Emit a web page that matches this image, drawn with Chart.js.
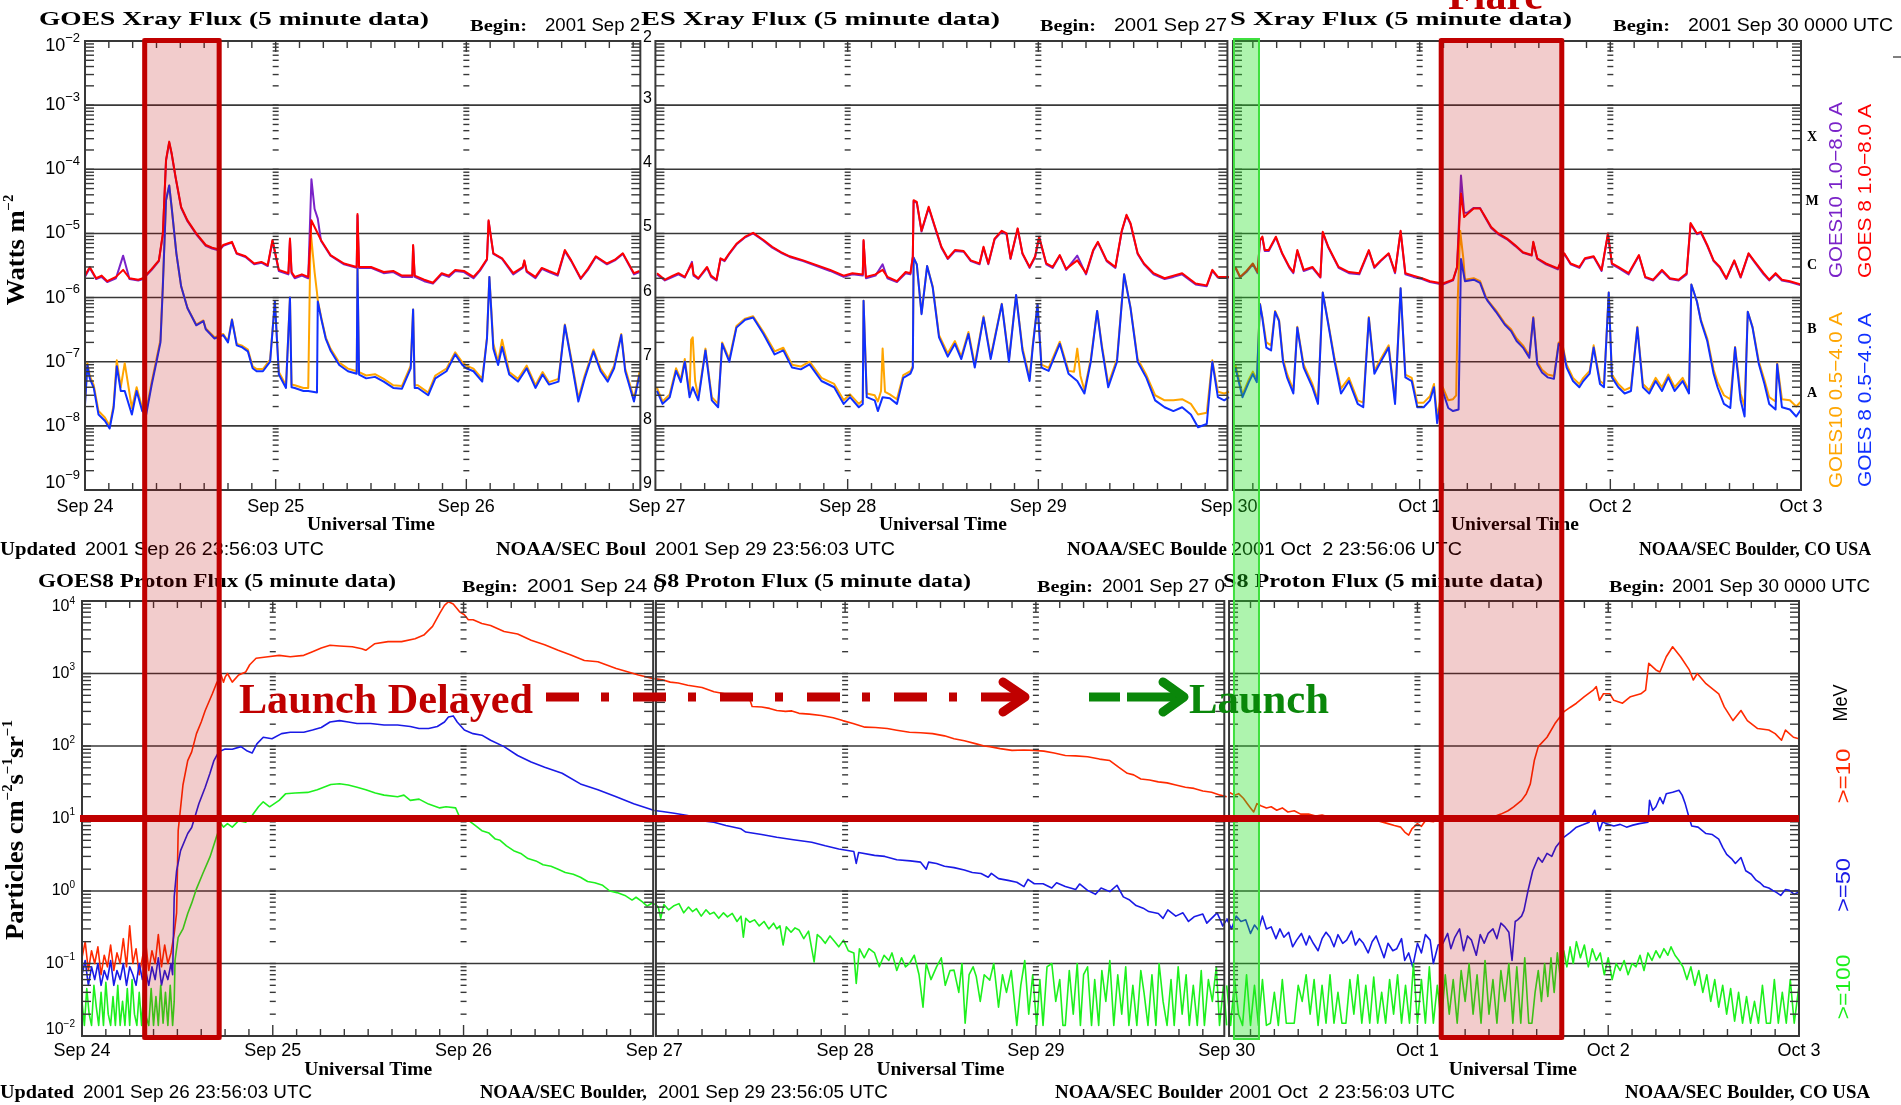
<!DOCTYPE html>
<html><head><meta charset="utf-8">
<script src="https://cdn.jsdelivr.net/npm/chart.js@4.4.1/dist/chart.umd.min.js"></script>
<style>
html,body{margin:0;padding:0;background:#fff;}
#wrap{position:relative;width:1901px;height:1105px;overflow:hidden;background:#fff;}
canvas{position:absolute;left:0;top:0;}
</style></head><body>
<div id="wrap">
<canvas id="cx" width="1901" height="1105"></canvas>
<canvas id="cp" width="1901" height="1105"></canvas>
<canvas id="ov" width="1901" height="1105"></canvas>
</div>
<script>
// ===== DATA: [hours since 2001 Sep 24 00:00 UTC, value] =====
const dayLabels = ['Sep 24','Sep 25','Sep 26','Sep 27','Sep 28','Sep 29','Sep 30','Oct 1','Oct 2','Oct 3'];
const goesClasses = ['A','B','C','M','X'];

// GOES 8 1.0-8.0 A (W m-2)
const g8Long1 = [[0,2.2e-6],[0.6,3.0e-6],[1.4,2.0e-6],[2.1,2.2e-6],[2.8,1.8e-6],[3.9,2.1e-6],[4.8,2.7e-6],[5.6,2.0e-6],[6.7,1.9e-6],[7.3,2.0e-6],[8.4,2.8e-6],[9.3,3.8e-6],[9.8,1.0e-5],[10.2,1.4e-4],[10.6,2.7e-4],[10.9,1.8e-4],[11.4,7.6e-5],[12.1,2.6e-5],[12.9,1.6e-5],[14.0,1.0e-5],[15.2,6.6e-6],[16.0,6.0e-6],[16.9,5.6e-6],[17.4,6.6e-6],[18.5,7.4e-6],[19.1,4.9e-6],[20.2,4.4e-6],[21.3,3.4e-6],[22.2,3.6e-6],[23.0,3.2e-6],[23.6,7.9e-6],[24.4,2.7e-6],[25.6,2.4e-6],[25.8,8.3e-6],[26.0,2.5e-6],[26.4,2.1e-6],[27.3,2.3e-6],[28.1,2.1e-6],[28.5,1.6e-5],[28.9,1.26e-5],[29.7,7.9e-6],[30.9,4.6e-6],[32.6,3.4e-6],[34.2,3.0e-6],[34.3,2.0e-5],[34.5,3.0e-6],[36.0,3.0e-6],[37.6,2.5e-6],[38.8,2.6e-6],[39.9,2.2e-6],[41.2,2.2e-6],[41.3,6.6e-6],[41.5,2.2e-6],[42.7,1.9e-6],[43.8,1.7e-6],[44.9,2.4e-6],[45.8,2.2e-6],[46.6,2.7e-6],[47.7,2.6e-6],[48.9,2.1e-6],[49.7,2.7e-6],[50.6,4.0e-6],[50.8,1.6e-5],[51.4,4.9e-6],[52.5,4.1e-6],[53.9,2.4e-6],[55.1,3.0e-6],[55.3,3.8e-6],[55.6,2.6e-6],[56.7,2.1e-6],[57.5,2.9e-6],[58.4,2.6e-6],[59.5,2.3e-6],[60.4,5.5e-6],[61.2,3.8e-6],[62.4,2.0e-6],[63.3,2.8e-6],[64.3,4.4e-6],[65.7,3.4e-6],[66.7,3.9e-6],[67.7,4.9e-6],[69.1,2.4e-6],[69.8,2.6e-6]];
const g8Long2 = [[72,2.4e-6],[73,1.9e-6],[74,2.2e-6],[74.7,2.4e-6],[75.5,2.1e-6],[76.4,3.4e-6],[76.6,2.3e-6],[77.2,2.0e-6],[78.3,3.0e-6],[78.8,2.2e-6],[79.5,1.9e-6],[80.0,4.1e-6],[80.5,3.8e-6],[81.1,4.9e-6],[82.0,6.9e-6],[83.1,8.9e-6],[84.1,1.02e-5],[85.4,7.9e-6],[86.5,6.2e-6],[87.6,5.1e-6],[88.7,4.4e-6],[90.4,3.8e-6],[92.1,3.2e-6],[93.8,2.7e-6],[95.5,2.2e-6],[96.6,2.4e-6],[97.9,2.3e-6],[98.0,7.9e-6],[98.3,2.1e-6],[99.5,2.3e-6],[100.4,2.7e-6],[101.0,2.1e-6],[102.2,1.8e-6],[103.3,2.5e-6],[103.9,2.4e-6],[104.2,4.4e-6],[104.3,3.3e-5],[104.7,3.1e-5],[105.3,1.1e-5],[106.2,2.6e-5],[107.0,1.26e-5],[107.8,6.2e-6],[108.6,4.1e-6],[109.5,5.5e-6],[110.6,5.3e-6],[111.5,3.8e-6],[112.6,3.4e-6],[113.1,6.2e-6],[113.7,3.4e-6],[114.5,8.3e-6],[115.4,1.1e-5],[116.0,1.0e-5],[116.5,4.1e-6],[117.4,1.2e-5],[118.0,4.9e-6],[118.9,3.0e-6],[119.6,4.4e-6],[120.1,8.9e-6],[121.0,3.4e-6],[121.8,3.0e-6],[122.7,4.6e-6],[123.5,2.8e-6],[124.9,3.8e-6],[126.0,2.4e-6],[126.9,5.5e-6],[127.5,7.4e-6],[128.6,3.8e-6],[129.7,3.0e-6],[130.5,1.1e-5],[131.1,1.95e-5],[131.6,1.45e-5],[132.5,4.9e-6],[133.3,3.4e-6],[134.5,2.4e-6],[135.9,2.0e-6],[137.0,2.2e-6],[138.1,2.4e-6],[139.8,1.66e-6],[141.2,1.55e-6],[141.9,2.7e-6],[142.6,2.1e-6],[144,2.1e-6]];
const g8Long3 = [[144.8,3.0e-6],[145.4,2.1e-6],[146.2,2.6e-6],[147.0,3.4e-6],[147.6,2.5e-6],[147.9,7.9e-6],[148.2,8.9e-6],[148.5,5.5e-6],[149.0,5.5e-6],[149.9,8.9e-6],[150.7,4.9e-6],[151.6,3.0e-6],[152.1,2.5e-6],[152.6,5.5e-6],[153.4,2.7e-6],[154.5,3.0e-6],[155.5,2.1e-6],[155.8,1.06e-5],[156.5,6.2e-6],[157.8,3.0e-6],[159.1,2.5e-6],[160.4,2.4e-6],[161.6,5.5e-6],[162.3,3.0e-6],[163.1,3.8e-6],[164.1,4.9e-6],[164.9,2.5e-6],[165.6,1.1e-5],[166.2,2.4e-6],[167.2,2.2e-6],[168.3,2.0e-6],[169.3,1.8e-6],[170.9,1.66e-6],[172.2,1.9e-6],[172.7,3.0e-6],[173.2,4.2e-5],[173.6,1.8e-5],[174.0,2.0e-5],[174.8,2.45e-5],[175.6,2.45e-5],[176.1,1.95e-5],[177.0,1.26e-5],[177.9,1.0e-5],[179.0,8.3e-6],[180.0,6.6e-6],[181.0,5.1e-6],[182.1,4.6e-6],[182.3,7.4e-6],[182.8,4.1e-6],[183.9,3.4e-6],[185.4,2.85e-6],[186.2,4.9e-6],[187.0,3.4e-6],[188.1,3.0e-6],[188.8,4.1e-6],[189.9,4.4e-6],[190.9,2.7e-6],[191.7,1.0e-5],[192.2,3.4e-6],[193.0,3.0e-6],[194.3,2.4e-6],[195.6,4.6e-6],[196.4,2.1e-6],[197.4,1.9e-6],[198.5,2.7e-6],[199.5,2.0e-6],[200.6,1.9e-6],[201.6,2.4e-6],[202.1,1.45e-5],[202.9,1.0e-5],[203.4,1.06e-5],[204.2,6.6e-6],[205.0,3.8e-6],[205.8,3.0e-6],[206.6,2.0e-6],[207.6,3.8e-6],[208.4,2.1e-6],[209.4,4.9e-6],[210.2,3.6e-6],[211.3,2.4e-6],[212.0,1.9e-6],[212.8,2.4e-6],[213.6,1.9e-6],[214.6,1.8e-6],[216,1.6e-6]];

// GOES10 1.0-8.0 A
const g10Long1 = [[0,2.1e-6],[0.6,2.9e-6],[1.4,1.95e-6],[2.1,2.1e-6],[2.8,1.75e-6],[3.9,2.0e-6],[4.8,4.5e-6],[5.6,1.95e-6],[6.7,1.85e-6],[7.3,1.95e-6],[8.4,2.7e-6],[9.3,3.7e-6],[9.8,9.6e-6],[10.2,1.35e-4],[10.6,2.6e-4],[10.9,1.75e-4],[11.4,7.4e-5],[12.1,2.5e-5],[12.9,1.55e-5],[14.0,9.7e-6],[15.2,6.4e-6],[16.0,5.8e-6],[16.9,5.4e-6],[17.4,6.4e-6],[18.5,7.2e-6],[19.1,4.8e-6],[20.2,4.3e-6],[21.3,3.3e-6],[22.2,3.5e-6],[23.0,3.1e-6],[23.6,7.6e-6],[24.4,2.6e-6],[25.6,2.3e-6],[25.8,8.0e-6],[26.0,2.4e-6],[26.4,2.0e-6],[27.3,2.2e-6],[28.1,2.0e-6],[28.5,7.0e-5],[28.9,2.4e-5],[29.3,1.7e-5],[29.7,7.7e-6],[30.9,4.5e-6],[32.6,3.3e-6],[34.2,2.9e-6],[34.3,1.9e-5],[34.5,2.9e-6],[36.0,2.9e-6],[37.6,2.4e-6],[38.8,2.5e-6],[39.9,2.1e-6],[41.2,2.1e-6],[41.3,6.4e-6],[41.5,2.1e-6],[42.7,1.8e-6],[43.8,1.65e-6],[44.9,2.3e-6],[45.8,2.1e-6],[46.6,2.6e-6],[47.7,2.5e-6],[48.9,2.0e-6],[49.7,2.6e-6],[50.6,3.9e-6],[50.8,1.55e-5],[51.4,4.8e-6],[52.5,4.0e-6],[53.9,2.3e-6],[55.1,2.9e-6],[55.3,3.7e-6],[55.6,2.5e-6],[56.7,2.0e-6],[57.5,2.8e-6],[58.4,2.5e-6],[59.5,2.2e-6],[60.4,5.3e-6],[61.2,3.7e-6],[62.4,1.95e-6],[63.3,2.7e-6],[64.3,4.3e-6],[65.7,3.3e-6],[66.7,3.8e-6],[67.7,4.8e-6],[69.1,2.3e-6],[69.8,2.5e-6]];
const g10Long2 = [[72,2.3e-6],[73,1.85e-6],[74,2.1e-6],[74.7,2.3e-6],[75.5,2.05e-6],[76.4,3.6e-6],[76.6,2.2e-6],[77.2,1.95e-6],[78.3,2.9e-6],[78.8,2.1e-6],[79.5,1.85e-6],[80.0,4.0e-6],[80.5,3.7e-6],[81.1,4.8e-6],[82.0,6.7e-6],[83.1,8.7e-6],[84.1,1.0e-5],[85.4,7.7e-6],[86.5,6.0e-6],[87.6,5.0e-6],[88.7,4.3e-6],[90.4,3.7e-6],[92.1,3.1e-6],[93.8,2.6e-6],[95.5,2.1e-6],[96.6,2.3e-6],[97.9,2.2e-6],[98.0,7.6e-6],[98.3,2.0e-6],[99.5,2.2e-6],[100.4,3.3e-6],[101.0,2.0e-6],[102.2,1.75e-6],[103.3,2.4e-6],[103.9,2.3e-6],[104.2,4.3e-6],[104.3,3.2e-5],[104.7,3.0e-5],[105.3,1.07e-5],[106.2,2.5e-5],[107.0,1.22e-5],[107.8,6.0e-6],[108.6,4.0e-6],[109.5,5.3e-6],[110.6,5.2e-6],[111.5,3.7e-6],[112.6,3.3e-6],[113.1,6.0e-6],[113.7,3.3e-6],[114.5,8.1e-6],[115.4,1.07e-5],[116.0,9.7e-6],[116.5,4.0e-6],[117.4,1.17e-5],[118.0,4.8e-6],[118.9,2.9e-6],[119.6,4.3e-6],[120.1,8.7e-6],[121.0,3.3e-6],[121.8,2.9e-6],[122.7,4.5e-6],[123.5,2.7e-6],[124.9,4.5e-6],[126.0,2.3e-6],[126.9,5.3e-6],[127.5,7.2e-6],[128.6,3.7e-6],[129.7,2.9e-6],[130.5,1.07e-5],[131.1,1.9e-5],[131.6,1.4e-5],[132.5,4.8e-6],[133.3,3.3e-6],[134.5,2.3e-6],[135.9,1.95e-6],[137.0,2.1e-6],[138.1,2.3e-6],[139.8,1.6e-6],[141.2,1.5e-6],[141.9,2.6e-6],[142.6,2.05e-6],[144,2.05e-6]];
const g10Long3 = [[144.8,2.9e-6],[145.4,2.05e-6],[146.2,2.5e-6],[147.0,3.3e-6],[147.6,2.4e-6],[147.9,7.7e-6],[148.2,8.6e-6],[148.5,5.3e-6],[149.0,5.3e-6],[149.9,8.6e-6],[150.7,4.8e-6],[151.6,2.9e-6],[152.1,2.4e-6],[152.6,5.3e-6],[153.4,2.6e-6],[154.5,2.9e-6],[155.5,2.05e-6],[155.8,1.03e-5],[156.5,6.0e-6],[157.8,2.9e-6],[159.1,2.4e-6],[160.4,2.3e-6],[161.6,5.3e-6],[162.3,2.9e-6],[163.1,3.7e-6],[164.1,4.8e-6],[164.9,2.4e-6],[165.6,1.07e-5],[166.2,2.3e-6],[167.2,2.1e-6],[168.3,1.95e-6],[169.3,1.75e-6],[170.9,1.6e-6],[172.2,1.85e-6],[172.7,2.9e-6],[173.2,8.0e-5],[173.6,2.1e-5],[174.0,2.1e-5],[174.8,2.5e-5],[175.6,2.5e-5],[176.1,1.9e-5],[177.0,1.22e-5],[177.9,9.7e-6],[179.0,8.1e-6],[180.0,6.4e-6],[181.0,5.0e-6],[182.1,4.5e-6],[182.3,7.2e-6],[182.8,4.0e-6],[183.9,3.3e-6],[185.4,2.75e-6],[186.2,4.8e-6],[187.0,3.3e-6],[188.1,2.9e-6],[188.8,4.0e-6],[189.9,4.3e-6],[190.9,2.6e-6],[191.7,9.7e-6],[192.2,3.3e-6],[193.0,2.9e-6],[194.3,2.3e-6],[195.6,4.5e-6],[196.4,2.05e-6],[197.4,1.85e-6],[198.5,2.6e-6],[199.5,1.95e-6],[200.6,1.85e-6],[201.6,2.3e-6],[202.1,1.4e-5],[202.9,9.7e-6],[203.4,1.03e-5],[204.2,6.4e-6],[205.0,3.7e-6],[205.8,2.9e-6],[206.6,1.95e-6],[207.6,3.7e-6],[208.4,2.05e-6],[209.4,4.8e-6],[210.2,3.5e-6],[211.3,2.3e-6],[212.0,1.85e-6],[212.8,2.3e-6],[213.6,1.85e-6],[214.6,1.75e-6],[216,1.55e-6]];

// GOES 8 0.5-4.0 A
const g8Short1 = [[0,2.1e-8],[0.3,8.9e-8],[0.6,5.5e-8],[1.1,3.9e-8],[1.7,1.5e-8],[2.5,1.2e-8],[3.1,9.1e-9],[3.6,1.9e-8],[4.0,8.5e-8],[4.5,3.5e-8],[5.0,3.5e-8],[5.9,1.5e-8],[6.5,3.5e-8],[7.2,1.7e-8],[7.7,1.5e-8],[8.4,4.4e-8],[9.0,1.0e-7],[9.5,2.0e-7],[9.8,1.5e-6],[10.2,3.3e-5],[10.6,5.6e-5],[10.9,2.6e-5],[11.5,4.9e-6],[12.1,1.5e-6],[12.9,6.8e-7],[14.0,3.7e-7],[14.9,4.3e-7],[15.2,3.2e-7],[16.3,2.3e-7],[17.4,2.6e-7],[18.0,2.0e-7],[18.5,4.5e-7],[19.1,1.8e-7],[19.7,1.7e-7],[20.5,1.45e-7],[21.1,7.9e-8],[21.6,7.1e-8],[22.4,7.1e-8],[23.3,1.0e-7],[23.9,8.7e-7],[24.4,6.3e-8],[25.3,3.9e-8],[25.8,1.0e-6],[26.0,4.0e-8],[26.4,3.9e-8],[27.5,3.5e-8],[28.1,3.5e-8],[29.2,3.3e-8],[29.3,8.7e-7],[29.8,4.3e-7],[30.3,2.3e-7],[30.9,1.5e-7],[32.0,8.9e-8],[33.1,7.1e-8],[34.2,6.5e-8],[34.3,2.8e-6],[34.5,6.3e-8],[35.4,5.5e-8],[36.5,5.8e-8],[37.6,4.9e-8],[38.8,3.9e-8],[39.9,3.8e-8],[41.0,7.9e-8],[41.3,6.5e-7],[41.5,3.9e-8],[41.9,3.9e-8],[43.2,3.0e-8],[44.1,5.5e-8],[45.5,7.1e-8],[46.6,1.3e-7],[47.5,8.9e-8],[48.0,7.9e-8],[48.9,7.1e-8],[50.0,4.9e-8],[50.6,2.3e-7],[50.9,2.1e-6],[51.4,1.6e-7],[52.0,8.9e-8],[52.5,1.7e-7],[53.4,6.3e-8],[54.5,4.9e-8],[55.6,7.9e-8],[56.7,3.9e-8],[57.6,6.3e-8],[58.4,4.4e-8],[59.6,4.9e-8],[60.4,3.7e-7],[61.3,8.9e-8],[62.1,2.4e-8],[62.9,5.5e-8],[64.0,1.45e-7],[64.9,7.1e-8],[65.8,4.9e-8],[66.6,7.9e-8],[67.5,2.6e-7],[68.0,7.1e-8],[69.1,2.4e-8],[69.8,6.3e-8]];
const g8Short2 = [[72,3.5e-8],[72.7,2.2e-8],[73.6,2.8e-8],[74.4,7.2e-8],[75.0,4.8e-8],[75.5,1.0e-7],[76.1,2.8e-8],[76.5,4.0e-8],[77.2,2.5e-8],[78.1,1.5e-7],[78.9,2.5e-8],[79.7,1.95e-8],[80.2,1.9e-7],[81.1,1.0e-7],[82.0,3.4e-7],[83.1,4.5e-7],[84.1,4.9e-7],[85.4,2.7e-7],[86.8,1.3e-7],[87.9,1.5e-7],[89.0,8.1e-8],[90.1,7.6e-8],[91.2,9.1e-8],[92.7,5.0e-8],[94.3,4.0e-8],[95.5,2.2e-8],[96.3,2.8e-8],[97.4,1.95e-8],[97.9,2.2e-8],[98.0,8.9e-7],[98.4,2.8e-8],[99.4,2.5e-8],[99.8,1.7e-8],[100.4,2.8e-8],[101.3,2.7e-8],[102.2,2.2e-8],[103.0,5.6e-8],[103.9,6.5e-8],[104.2,8.0e-8],[104.3,4.2e-6],[104.7,3.3e-6],[105.3,5.5e-7],[106.0,3.1e-6],[106.7,1.45e-6],[107.5,2.4e-7],[108.6,1.2e-7],[109.5,1.9e-7],[110.3,1.1e-7],[111.2,2.7e-7],[112.0,8.1e-8],[113.1,4.9e-7],[114.0,1.1e-7],[115.4,7.9e-7],[116.3,1.0e-7],[117.2,1.1e-6],[118.0,1.5e-7],[118.9,5.0e-8],[119.3,1.7e-7],[119.9,7.9e-7],[120.4,8.1e-8],[121.3,7.2e-8],[122.7,1.9e-7],[123.8,6.5e-8],[124.9,5.0e-8],[125.8,3.2e-8],[126.6,1.0e-7],[127.4,6.2e-7],[128.0,1.66e-7],[128.8,4.0e-8],[129.9,1.0e-7],[130.8,2.3e-6],[131.6,6.9e-7],[132.5,1.0e-7],[133.6,5.6e-8],[134.7,2.5e-8],[135.9,1.95e-8],[137.0,1.7e-8],[138.1,1.95e-8],[139.2,1.5e-8],[140.1,9.5e-9],[141.2,1.07e-8],[141.9,1.0e-7],[142.6,2.8e-8],[143.4,2.5e-8],[144,2.8e-8]];
const g8Short3 = [[144.8,8.1e-8],[145.7,2.8e-8],[146.5,4.8e-8],[147.0,6.4e-8],[147.5,4.8e-8],[147.9,7.9e-7],[148.2,4.8e-7],[148.7,1.66e-7],[149.3,1.5e-7],[149.8,6.0e-7],[150.3,4.3e-7],[150.8,1.0e-7],[151.3,5.7e-8],[152.1,3.2e-8],[152.6,3.4e-7],[153.4,8.1e-8],[154.5,4.0e-8],[155.2,2.2e-8],[155.8,1.2e-6],[156.5,3.8e-7],[157.3,1.0e-7],[158.1,3.2e-8],[159.1,5.0e-8],[160.2,2.2e-8],[160.9,1.95e-8],[161.6,4.8e-7],[162.3,6.5e-8],[163.1,1.0e-7],[164.1,1.66e-7],[164.9,2.2e-8],[165.6,1.4e-6],[166.2,5.7e-8],[167.0,5.0e-8],[167.7,1.95e-8],[168.5,1.95e-8],[169.3,2.5e-8],[169.8,4.0e-8],[170.2,1.1e-8],[170.9,3.5e-8],[171.6,1.9e-8],[172.2,1.7e-8],[172.9,1.8e-8],[173.2,4.0e-6],[173.7,1.8e-6],[174.8,1.9e-6],[175.6,1.7e-6],[176.3,1.0e-6],[176.6,8.7e-7],[177.6,6.0e-7],[178.7,3.8e-7],[179.5,3.0e-7],[180.2,2.1e-7],[181.0,1.66e-7],[181.8,1.15e-7],[182.3,4.8e-7],[182.8,9.1e-8],[183.4,6.8e-8],[184.1,5.7e-8],[184.9,5.4e-8],[185.5,1.9e-7],[186.0,1.66e-7],[186.5,8.1e-8],[187.3,5.0e-8],[188.1,4.0e-8],[188.6,5.0e-8],[189.4,6.5e-8],[189.9,1.66e-7],[190.7,4.5e-8],[191.2,4.0e-8],[191.8,1.2e-6],[192.2,5.7e-8],[193.0,4.0e-8],[193.8,3.2e-8],[194.6,3.5e-8],[195.4,3.4e-7],[196.1,4.0e-8],[196.9,3.2e-8],[197.7,5.0e-8],[198.5,3.5e-8],[199.3,5.7e-8],[200.1,3.5e-8],[201.1,5.0e-8],[201.9,3.2e-8],[202.2,1.6e-6],[202.9,8.7e-7],[203.4,4.3e-7],[204.2,2.1e-7],[205.0,6.5e-8],[205.5,4.0e-8],[206.3,2.2e-8],[207.1,1.9e-8],[207.7,1.66e-7],[208.4,2.5e-8],[208.9,1.4e-8],[209.3,6.0e-7],[209.9,3.4e-7],[210.7,9.1e-8],[211.4,4.5e-8],[212.0,2.2e-8],[212.8,1.8e-8],[213.0,9.1e-8],[213.6,1.95e-8],[214.6,1.8e-8],[215.4,1.4e-8],[216,1.8e-8]];

// GOES10 0.5-4.0 A
const g10Short1 = [[0,2.4e-8],[0.3,9.5e-8],[0.6,6.0e-8],[1.1,4.3e-8],[1.7,1.7e-8],[2.5,1.35e-8],[3.1,1.0e-8],[3.6,2.1e-8],[4.0,1.05e-7],[4.5,4.0e-8],[5.0,9.5e-8],[5.9,1.9e-8],[6.5,4.0e-8],[7.2,1.9e-8],[7.7,1.7e-8],[8.4,4.9e-8],[9.0,1.1e-7],[9.5,2.2e-7],[9.8,1.6e-6],[10.2,3.3e-5],[10.6,5.6e-5],[10.9,2.6e-5],[11.5,4.9e-6],[12.1,1.5e-6],[12.9,6.9e-7],[14.0,3.8e-7],[14.9,4.4e-7],[15.2,3.3e-7],[16.3,2.4e-7],[17.4,2.7e-7],[18.0,2.1e-7],[18.5,4.6e-7],[19.1,1.9e-7],[19.7,1.8e-7],[20.5,1.55e-7],[21.1,8.5e-8],[21.6,7.7e-8],[22.4,7.7e-8],[23.3,1.08e-7],[23.9,8.7e-7],[24.4,6.9e-8],[25.3,4.3e-8],[25.8,1.0e-6],[26.0,4.4e-8],[26.4,4.3e-8],[27.5,3.9e-8],[28.1,3.9e-8],[28.4,1.1e-5],[28.9,2.5e-6],[29.2,1.2e-6],[29.3,9.0e-7],[29.8,4.5e-7],[30.3,2.4e-7],[30.9,1.6e-7],[32.0,9.7e-8],[33.1,7.8e-8],[34.2,7.1e-8],[34.3,2.8e-6],[34.5,6.9e-8],[35.4,6.1e-8],[36.5,6.4e-8],[37.6,5.4e-8],[38.8,4.3e-8],[39.9,4.2e-8],[41.0,8.7e-8],[41.3,6.5e-7],[41.5,4.3e-8],[41.9,4.3e-8],[43.2,3.3e-8],[44.1,6.1e-8],[45.5,7.8e-8],[46.6,1.4e-7],[47.5,9.8e-8],[48.0,8.7e-8],[48.9,7.8e-8],[50.0,5.4e-8],[50.6,2.4e-7],[50.9,2.1e-6],[51.4,1.9e-7],[52.0,1.0e-7],[52.5,2.2e-7],[53.4,6.9e-8],[54.5,5.4e-8],[55.6,8.7e-8],[56.7,4.3e-8],[57.6,6.9e-8],[58.4,4.8e-8],[59.6,5.4e-8],[60.4,3.8e-7],[61.3,9.8e-8],[62.1,2.7e-8],[62.9,6.1e-8],[64.0,1.55e-7],[64.9,7.8e-8],[65.8,5.4e-8],[66.6,8.7e-8],[67.5,2.7e-7],[68.0,7.8e-8],[69.1,2.7e-8],[69.8,6.9e-8]];
const g10Short2 = [[72,3.9e-8],[72.7,2.4e-8],[73.6,3.1e-8],[74.4,7.9e-8],[75.0,5.3e-8],[75.5,1.1e-7],[76.1,3.1e-8],[76.3,2.2e-7],[76.5,2.4e-7],[76.8,5.0e-8],[77.2,2.8e-8],[78.1,1.6e-7],[78.9,2.8e-8],[79.7,2.2e-8],[80.2,2.0e-7],[81.1,1.1e-7],[82.0,3.6e-7],[83.1,4.7e-7],[84.1,5.1e-7],[85.4,2.9e-7],[86.8,1.45e-7],[87.9,1.65e-7],[89.0,9.0e-8],[90.1,8.4e-8],[91.2,1.0e-7],[92.7,5.6e-8],[94.3,4.5e-8],[95.5,2.5e-8],[96.3,3.1e-8],[97.4,2.2e-8],[97.9,2.5e-8],[98.0,8.9e-7],[98.4,3.2e-8],[99.4,3.0e-8],[99.8,2.4e-8],[100.2,3.5e-8],[100.4,1.6e-7],[100.7,3.4e-8],[101.3,3.1e-8],[102.2,2.6e-8],[103.0,6.2e-8],[103.9,7.1e-8],[104.2,8.5e-8],[104.3,4.2e-6],[104.7,3.3e-6],[105.3,5.7e-7],[106.0,3.1e-6],[106.7,1.5e-6],[107.5,2.6e-7],[108.6,1.35e-7],[109.5,2.1e-7],[110.3,1.2e-7],[111.2,2.9e-7],[112.0,9.0e-8],[113.1,5.1e-7],[114.0,1.2e-7],[115.4,8.0e-7],[116.3,1.1e-7],[117.2,1.1e-6],[118.0,1.65e-7],[118.9,5.6e-8],[119.3,1.85e-7],[119.9,7.9e-7],[120.4,9.0e-8],[121.3,8.0e-8],[122.7,2.05e-7],[123.8,7.2e-8],[124.5,7.0e-8],[124.9,1.6e-7],[125.3,6.0e-8],[125.8,3.6e-8],[126.6,1.1e-7],[127.4,6.2e-7],[128.0,1.8e-7],[128.8,4.5e-8],[129.9,1.1e-7],[130.8,2.3e-6],[131.6,7.1e-7],[132.5,1.1e-7],[133.6,6.2e-8],[134.7,3.0e-8],[135.9,2.5e-8],[137.0,2.5e-8],[138.1,2.6e-8],[139.2,2.2e-8],[140.1,1.5e-8],[141.2,1.6e-8],[141.9,1.05e-7],[142.6,3.4e-8],[143.4,3.2e-8],[144,3.4e-8]];
const g10Short3 = [[144.8,9.0e-8],[145.7,3.1e-8],[146.5,5.3e-8],[147.0,7.0e-8],[147.5,5.3e-8],[147.9,8.0e-7],[148.2,5.0e-7],[148.7,2.0e-7],[149.3,1.8e-7],[149.8,6.2e-7],[150.3,4.5e-7],[150.8,1.1e-7],[151.3,6.5e-8],[152.1,3.6e-8],[152.6,3.5e-7],[153.4,9.0e-8],[154.5,4.5e-8],[155.2,2.5e-8],[155.8,1.2e-6],[156.5,4.0e-7],[157.3,1.1e-7],[158.1,3.8e-8],[159.1,5.6e-8],[160.2,2.5e-8],[160.9,2.3e-8],[161.6,5.0e-7],[162.3,7.2e-8],[163.1,1.1e-7],[164.1,1.8e-7],[164.9,2.5e-8],[165.6,1.4e-6],[166.2,6.3e-8],[167.0,5.6e-8],[167.7,2.3e-8],[168.5,2.3e-8],[169.3,2.9e-8],[169.8,4.5e-8],[170.2,1.4e-8],[170.9,4.0e-8],[171.6,2.5e-8],[172.2,2.6e-8],[172.6,3.0e-8],[172.8,1.0e-6],[173.1,1.1e-5],[173.5,4.0e-6],[173.7,1.9e-6],[174.8,2.0e-6],[175.6,1.8e-6],[176.3,1.05e-6],[176.6,9.0e-7],[177.6,6.3e-7],[178.7,4.0e-7],[179.5,3.2e-7],[180.2,2.3e-7],[181.0,1.8e-7],[181.8,1.25e-7],[182.3,5.0e-7],[182.8,1.0e-7],[183.4,7.5e-8],[184.1,6.3e-8],[184.9,6.0e-8],[185.5,2.0e-7],[186.0,1.8e-7],[186.5,9.0e-8],[187.3,5.6e-8],[188.1,4.5e-8],[188.6,5.6e-8],[189.4,7.2e-8],[189.9,1.8e-7],[190.7,5.0e-8],[191.2,4.5e-8],[191.8,1.2e-6],[192.2,6.3e-8],[193.0,4.5e-8],[193.8,3.6e-8],[194.6,4.0e-8],[195.4,3.5e-7],[196.1,4.5e-8],[196.9,3.6e-8],[197.7,5.6e-8],[198.5,4.0e-8],[199.3,6.3e-8],[200.1,4.0e-8],[201.1,5.6e-8],[201.9,3.6e-8],[202.2,1.6e-6],[202.9,8.7e-7],[203.4,4.5e-7],[204.2,2.3e-7],[205.0,7.5e-8],[205.5,4.8e-8],[206.3,3.0e-8],[207.1,2.6e-8],[207.7,1.7e-7],[208.4,3.2e-8],[208.9,2.0e-8],[209.3,6.0e-7],[209.9,3.5e-7],[210.7,1.0e-7],[211.4,5.2e-8],[212.0,2.8e-8],[212.8,2.4e-8],[213.0,9.5e-8],[213.6,2.6e-8],[214.6,2.5e-8],[215.4,2.0e-8],[216,2.4e-8]];

// GOES8 proton flux >=10 MeV (particles cm-2 s-1 sr-1)
const p10a = [[0,0.12],[0.4,0.2],[0.8,0.08],[1.2,0.15],[1.6,0.1],[2.0,0.17],[2.4,0.07],[2.8,0.13],[3.2,0.09],[3.6,0.18],[4.0,0.08],[4.4,0.14],[4.8,0.1],[5.2,0.22],[5.6,0.09],[6.0,0.33],[6.4,0.1],[6.8,0.16],[7.2,0.07],[7.6,0.12],[8.0,0.2],[8.4,0.08],[8.8,0.15],[9.2,0.1],[9.6,0.25],[10.0,0.09],[10.4,0.18],[10.8,0.1],[11.2,0.14],[11.6,0.26],[11.9,0.5],[12.1,6.8],[12.4,14],[12.7,29],[13.3,63],[13.8,83],[14.4,148],[15.0,214],[15.5,309],[16.4,525],[16.9,724],[17.5,955],[17.8,760],[18.0,890],[18.3,1000],[18.9,760],[19.7,955],[20.6,1050],[21.1,1320],[21.9,1620],[23.4,1700],[24.8,1780],[26.2,1700],[27.9,1780],[29.0,2000],[30.1,2240],[31.2,2450],[32.4,2400],[34.0,2340],[35.2,2200],[35.7,2090],[36.8,2570],[38.5,2750],[40.2,2750],[41.9,3020],[43.0,3390],[44.1,4470],[45.0,6760],[45.6,8710],[46.1,9770],[46.7,9100],[47.5,7080],[48.1,6460],[48.6,5500],[49.2,5500],[50.3,4900],[51.4,4600],[53.1,3800],[54.8,3500],[56.5,2880],[58.2,2500],[59.9,2090],[61.5,1800],[63.2,1510],[64.9,1450],[67.2,1170],[68.3,1080],[70.0,955],[71.9,850]];
const p10b = [[72,850],[73,820],[74,760],[75,740],[76.2,690],[78,640],[79.5,560],[81,520],[82.5,480],[83.5,447],[84.0,440],[84.3,350],[85.5,345],[86.5,330],[87.4,309],[88.5,300],[89.3,305],[90.2,282],[91.5,275],[93,263],[94.5,245],[95.7,224],[97,205],[98.5,182],[99.8,180],[101.3,174],[102.5,165],[104.1,155],[105.5,152],[107,148],[108.5,138],[109.7,126],[111,118],[112.5,107],[113.5,100],[114.2,98],[115.5,92],[117,87],[118.5,88],[119.8,87],[121,85],[122.3,80],[123.7,74],[125,73],[126.5,71],[128,66],[129.3,63],[130.4,51],[131.5,42],[132.3,40],[133.2,35],[134.3,34],[135.4,32],[136.5,31],[137.6,29],[138.8,27],[139.9,26],[141,24],[142.1,23],[143.2,21],[144,20]];
const p10c = [[144.3,23],[145,21],[145.5,22],[146.1,19],[146.6,16],[147.0,14],[147.4,12.3],[147.8,16],[148.3,15],[149,14],[149.6,14.5],[150.3,13],[151,14],[151.7,12.3],[152.5,12.8],[153.3,11.5],[154.3,11.5],[155.2,10.8],[156,11.2],[157,10.4],[158,10.8],[158.8,9.8],[159.6,10],[160.5,10.6],[161.4,9.6],[162.2,10],[163.2,9.2],[164.3,8.5],[165.1,8.0],[165.9,7.6],[166.4,6.5],[166.9,5.9],[167.3,7.2],[168,8.5],[168.5,7.8],[169,9.3],[170,9.0],[171.2,10.4],[172.5,9.8],[173.8,10],[175,9.6],[176.4,10],[177.5,10.5],[178.5,11.5],[179.4,12.8],[180.1,14.5],[181.1,17.8],[181.7,22],[182.2,30],[182.7,63],[183.2,98],[184.3,132],[185.3,204],[186.4,295],[187.2,340],[188,389],[189,479],[190.1,589],[190.5,660],[190.9,427],[191.4,525],[192.2,525],[192.7,427],[193.8,389],[194.8,479],[196.1,525],[196.7,589],[197.1,1380],[198,1120],[198.5,1050],[199.3,1700],[200.1,2340],[201.1,1700],[202.2,1120],[202.7,813],[203.2,1000],[204.3,724],[205.9,525],[206.6,347],[207.7,224],[208.7,309],[209.5,224],[210.8,174],[212.2,166],[213,148],[213.8,120],[214.3,166],[215.3,132],[216,126]];

// >=50 MeV
const p50a = [[0,0.07],[0.4,0.11],[0.8,0.05],[1.2,0.09],[1.6,0.06],[2.0,0.1],[2.4,0.05],[2.8,0.08],[3.2,0.06],[3.6,0.11],[4.0,0.05],[4.4,0.08],[4.8,0.06],[5.2,0.1],[5.6,0.05],[6.0,0.09],[6.4,0.07],[6.8,0.05],[7.2,0.1],[7.6,0.06],[8.0,0.08],[8.4,0.05],[8.8,0.09],[9.2,0.06],[9.6,0.12],[10.0,0.05],[10.4,0.08],[10.8,0.06],[11.2,0.1],[11.4,0.07],[11.6,0.83],[11.9,1.9],[12.4,3.6],[13.3,6.2],[13.8,7.5],[14.7,16],[15.5,27],[16.1,42],[16.6,63],[17.2,83],[18.0,91],[18.9,90],[20.0,98],[20.8,85],[21.4,80],[22.0,107],[22.8,132],[23.9,126],[25.1,148],[26.2,155],[27.9,155],[29.0,166],[30.1,180],[31.2,214],[32.4,224],[33.5,214],[34.6,204],[36.3,204],[38.0,195],[39.7,195],[41.3,186],[42.4,174],[43.6,174],[44.7,186],[45.6,214],[46.1,251],[46.7,260],[47.2,214],[48.1,166],[49.2,148],[50.3,141],[51.4,120],[53.1,98],[54.8,74],[56.5,60],[58.2,51],[60.4,42],[62.7,30],[64.9,25],[67.2,20],[69.4,16],[71.9,13]];
const p50b = [[72,12.9],[73,12.5],[74.5,11.8],[76.2,11],[77.9,9.3],[79.5,8.9],[81,8.0],[82.9,7.2],[83.5,6.5],[85.5,6.0],[87.4,5.5],[89.5,5.1],[91.8,4.7],[93.5,4.2],[95.2,3.8],[97.1,3.5],[97.4,2.4],[97.7,3.4],[99.7,3.1],[101,3.0],[102.5,2.7],[104.2,2.6],[105.5,2.5],[106.2,2.0],[106.5,2.5],[107.5,2.4],[108.5,2.2],[109.7,2.1],[111,1.95],[112,1.8],[113.1,1.74],[114,1.55],[114.4,1.75],[115.3,1.48],[116.5,1.4],[117.6,1.32],[118.5,1.15],[119,1.45],[119.8,1.26],[120.9,1.26],[122,1.1],[122.6,1.3],[123.7,1.15],[125,1.05],[125.5,1.25],[126.5,1.02],[127.5,0.9],[128.2,1.1],[129.3,0.98],[130.2,1.2],[131,0.83],[131.8,0.75],[132.6,0.63],[133.5,0.58],[134.2,0.52],[135.4,0.49],[136,0.42],[136.6,0.55],[137.6,0.45],[138.5,0.5],[139.2,0.38],[139.9,0.44],[141,0.48],[141.5,0.36],[142.1,0.42],[142.8,0.5],[143.2,0.40],[143.5,0.33],[144,0.40]];
const p50c = [[144,0.42],[144.6,0.3],[145.2,0.45],[145.8,0.38],[146.4,0.40],[147,0.26],[147.5,0.34],[148,0.29],[148.5,0.45],[149,0.3],[149.6,0.32],[150.2,0.22],[150.7,0.3],[151.2,0.23],[151.8,0.27],[152.3,0.17],[152.8,0.21],[153.4,0.26],[154,0.18],[154.4,0.24],[154.9,0.19],[155.5,0.15],[156,0.22],[156.5,0.27],[157,0.23],[157.5,0.17],[158,0.25],[158.6,0.19],[159.1,0.21],[159.7,0.28],[160.2,0.18],[160.7,0.22],[161.2,0.19],[161.8,0.14],[162.3,0.2],[162.8,0.24],[163.3,0.17],[163.8,0.12],[164.3,0.19],[164.9,0.15],[165.4,0.16],[166,0.22],[166.4,0.11],[166.9,0.14],[167.4,0.09],[168,0.19],[168.5,0.14],[169,0.25],[169.6,0.21],[170,0.1],[170.6,0.18],[171.2,0.19],[171.8,0.26],[172.2,0.16],[172.7,0.23],[173.3,0.3],[173.8,0.15],[174.3,0.24],[174.8,0.21],[175.4,0.13],[175.9,0.25],[176.4,0.19],[176.9,0.26],[177.5,0.3],[178,0.22],[178.5,0.36],[179,0.32],[179.5,0.27],[179.9,0.11],[180.3,0.38],[180.6,0.40],[181.1,0.45],[181.4,0.54],[181.9,1.0],[182.5,1.9],[183.2,2.9],[183.7,2.5],[184.3,3.3],[184.9,3.0],[185.4,4.0],[186.4,5.5],[187.2,6.4],[188,7.6],[188.8,8.2],[189.6,8.9],[190.3,13],[190.9,6.8],[191.3,9.0],[191.7,8.5],[192.7,7.9],[193.5,8.3],[194.3,7.6],[195.1,8.1],[195.9,8.5],[197,8.9],[197.2,17.8],[197.6,13],[198,14.5],[198.5,19.5],[198.9,16],[199.3,21.9],[200.1,23],[200.9,24.5],[201.3,21],[201.7,15.8],[202.1,11],[202.5,7.9],[203.3,7.6],[204.3,6.2],[205.1,6.0],[205.9,5.2],[206.4,4.0],[206.9,3.2],[207.5,2.8],[208,2.4],[208.7,2.9],[209.3,1.9],[210,1.7],[210.6,1.41],[211.1,1.3],[211.6,1.15],[212.2,1.1],[212.7,1.02],[213.2,0.95],[213.7,0.87],[214.3,1.05],[214.8,1.02],[215.4,0.9],[216,0.97]];

// >=100 MeV
const p100a = [[0,0.03],[0.3,0.014],[0.6,0.045],[0.9,0.02],[1.2,0.014],[1.5,0.05],[1.8,0.025],[2.1,0.014],[2.4,0.04],[2.7,0.014],[3.0,0.055],[3.3,0.02],[3.6,0.014],[3.9,0.035],[4.2,0.014],[4.5,0.05],[4.8,0.014],[5.1,0.03],[5.4,0.014],[5.7,0.045],[6.0,0.014],[6.3,0.06],[6.6,0.02],[6.9,0.014],[7.2,0.04],[7.5,0.014],[7.8,0.05],[8.1,0.018],[8.4,0.014],[8.7,0.045],[9.0,0.014],[9.3,0.035],[9.6,0.014],[9.9,0.05],[10.2,0.015],[10.5,0.04],[10.8,0.014],[11.1,0.05],[11.4,0.014],[11.6,0.03],[11.7,0.11],[12.1,0.23],[12.7,0.3],[13.3,0.49],[13.8,0.68],[14.4,1.07],[15.2,1.74],[16.1,2.95],[16.9,5.5],[17.5,8.5],[17.8,7.6],[18.3,8.5],[18.9,7.6],[19.7,9.3],[20.6,8.9],[21.4,11],[22.2,14.5],[22.8,17],[23.6,14.5],[24.8,17.8],[25.6,21.9],[26.8,22.5],[28.4,22.9],[29.6,25],[31.3,29.5],[32.4,30.2],[33.5,29],[34.6,27],[35.7,25],[36.9,22.5],[38.0,21],[39.7,20],[40.5,21],[41.3,17.8],[42.4,18.5],[43.6,15.8],[45.0,14],[45.8,14.5],[47.0,14],[47.5,10.5],[48.7,9.3],[49.5,8.0],[50.3,6.8],[51.2,6.3],[52,5.2],[52.6,5.0],[53.4,4.2],[54.3,3.6],[55.2,3.3],[56.1,2.8],[57.1,2.6],[58,2.3],[59,2.2],[59.9,2.0],[60.8,1.8],[61.8,1.7],[62.7,1.55],[63.6,1.35],[64.5,1.3],[65.5,1.2],[66.4,1.0],[67.3,0.95],[68.3,0.87],[69.2,0.75],[69.7,0.82],[70.5,0.71],[71.1,0.62],[71.9,0.70]];
const p100b = [[72,0.67],[72.5,0.6],[72.8,0.42],[73.2,0.65],[73.8,0.55],[74.4,0.62],[75.1,0.67],[75.7,0.5],[76.3,0.6],[76.8,0.52],[77.3,0.57],[77.9,0.45],[78.5,0.55],[79,0.48],[79.5,0.51],[80.1,0.42],[80.7,0.5],[81.2,0.44],[81.8,0.49],[82.4,0.38],[82.9,0.45],[83.2,0.23],[83.5,0.42],[84,0.37],[84.6,0.40],[85.2,0.33],[85.8,0.38],[86.4,0.3],[87,0.36],[87.4,0.30],[87.8,0.33],[88.2,0.18],[88.6,0.32],[89.2,0.27],[89.7,0.31],[90.2,0.29],[90.8,0.22],[91.4,0.28],[92.1,0.105],[92.5,0.25],[92.9,0.23],[93.5,0.19],[94.1,0.24],[94.7,0.2],[95.2,0.17],[95.8,0.21],[96.4,0.15],[97.1,0.14],[97.4,0.053],[97.8,0.16],[98.4,0.12],[99,0.16],[99.7,0.14],[100.3,0.09],[100.9,0.13],[101.5,0.11],[101.9,0.14],[102.5,0.08],[103.1,0.12],[103.6,0.09],[104.1,0.1],[104.7,0.13],[105.3,0.07],[105.8,0.025],[106.2,0.1],[106.8,0.06],[107.5,0.09],[108.1,0.12],[108.6,0.05],[109.2,0.08],[109.7,0.081],[110.3,0.04],[110.7,0.1],[111.1,0.015],[111.6,0.07],[112.1,0.09],[112.5,0.066],[113,0.03],[113.5,0.07],[114.2,0.059],[114.7,0.1],[115.3,0.025],[115.8,0.07],[116.3,0.04],[116.9,0.08],[117.6,0.014],[118.1,0.05],[118.6,0.11],[119.1,0.02],[119.6,0.07],[120.1,0.014],[120.5,0.06],[120.9,0.014],[121.4,0.09],[122,0.1],[122.5,0.03],[123,0.06],[123.4,0.014],[123.7,0.014],[124.2,0.08],[124.7,0.02],[125.2,0.1],[125.6,0.014],[126,0.07],[126.5,0.09],[127,0.014],[127.4,0.06],[127.9,0.014],[128.3,0.08],[128.8,0.03],[129.3,0.11],[129.8,0.014],[130.3,0.07],[130.8,0.02],[131.3,0.09],[131.7,0.014],[132.2,0.05],[132.7,0.014],[133.2,0.08],[133.6,0.04],[134.1,0.014],[134.6,0.07],[135.1,0.014],[135.5,0.1],[136,0.03],[136.5,0.014],[137,0.06],[137.4,0.014],[137.9,0.09],[138.4,0.02],[138.9,0.07],[139.3,0.014],[139.8,0.05],[140.3,0.014],[140.8,0.08],[141.2,0.014],[141.7,0.06],[142.2,0.03],[142.7,0.09],[143.1,0.014],[143.6,0.05],[144,0.014]];
const p100c = [[144,0.05],[144.5,0.014],[145,0.06],[145.5,0.02],[146,0.014],[146.5,0.07],[147,0.014],[147.5,0.05],[148,0.014],[148.5,0.06],[149,0.014],[149.5,0.015],[150,0.04],[150.5,0.014],[151,0.06],[151.5,0.015],[152,0.015],[152.5,0.015],[153,0.05],[153.5,0.03],[154,0.07],[154.5,0.02],[155,0.06],[155.5,0.014],[156,0.05],[156.5,0.015],[157,0.07],[157.5,0.015],[158,0.04],[158.5,0.015],[159,0.015],[159.5,0.06],[160,0.02],[160.5,0.07],[161,0.015],[161.5,0.05],[162,0.015],[162.5,0.065],[163,0.015],[163.5,0.04],[164,0.015],[164.5,0.06],[165,0.02],[165.5,0.07],[166,0.015],[166.5,0.05],[167,0.015],[167.5,0.1],[168,0.015],[168.5,0.06],[169,0.015],[169.5,0.09],[170,0.015],[170.5,0.05],[171,0.015],[171.5,0.07],[172,0.02],[172.5,0.06],[173,0.015],[173.5,0.08],[174,0.03],[174.5,0.1],[175,0.02],[175.5,0.07],[176,0.015],[176.5,0.11],[177,0.02],[177.5,0.06],[178,0.015],[178.5,0.08],[179,0.03],[179.5,0.1],[180,0.015],[180.5,0.09],[181,0.015],[181.5,0.12],[182,0.015],[182.4,0.015],[182.8,0.04],[183.2,0.08],[183.6,0.03],[184,0.1],[184.4,0.035],[184.8,0.12],[185.2,0.04],[185.6,0.14],[186,0.06],[186.4,0.15],[186.8,0.09],[187.2,0.17],[187.6,0.1],[188,0.2],[188.5,0.12],[189,0.18],[189.5,0.09],[190,0.16],[190.5,0.11],[191,0.14],[191.5,0.07],[192,0.12],[192.5,0.06],[193,0.1],[193.5,0.08],[194,0.11],[194.5,0.07],[195,0.1],[195.5,0.09],[196,0.13],[196.5,0.08],[197,0.14],[197.5,0.11],[198,0.15],[198.5,0.12],[199,0.16],[199.5,0.13],[199.9,0.17],[200.4,0.13],[200.9,0.11],[201.4,0.09],[201.9,0.06],[202.4,0.09],[202.9,0.05],[203.4,0.08],[203.9,0.04],[204.4,0.07],[204.9,0.03],[205.4,0.06],[205.9,0.025],[206.4,0.05],[206.9,0.02],[207.4,0.045],[207.9,0.016],[208.4,0.04],[208.9,0.015],[209.4,0.035],[209.9,0.015],[210.4,0.03],[210.9,0.015],[211.4,0.05],[211.9,0.015],[212.4,0.015],[212.9,0.06],[213.4,0.015],[213.9,0.04],[214.4,0.015],[214.9,0.06],[215.4,0.015],[216,0.05]];

// Highlighted intervals (hours) and threshold
const flareBoxes = [[7.2, 17.2], [170.4, 186.2]];
const launchBox = [144.5, 147.9];
const protonThreshold = 10;

// ===== STYLE =====
const COL = {g8L:'#ff0000', g10L:'#7a22c8', g10S:'#ffa500', g8S:'#1030ff', p10:'#ff2a00', p50:'#1a1ae6', p100:'#1ef01e'};
const AX = '#383838';
const serif = px => `bold ${px}px "Liberation Serif", "DejaVu Serif", serif`;
const sans = px => `${px}px "Liberation Sans", Arial, sans-serif`;

function txt(ctx, s, x, y, font, color, w, align) {
  ctx.save(); ctx.font = font; ctx.fillStyle = color || '#000';
  ctx.textBaseline = 'alphabetic'; ctx.textAlign = 'left';
  const nat = ctx.measureText(s).width; const k = w ? w / nat : 1; const ww = nat * k;
  const x0 = align === 'center' ? x - ww / 2 : align === 'right' ? x - ww : x;
  ctx.translate(x0, y); ctx.scale(k, 1); ctx.fillText(s, 0, 0); ctx.restore();
}
function vtxt(ctx, pieces, cx, cy, font, supFont, rise, color, w) {
  ctx.save(); ctx.translate(cx, cy); ctx.rotate(-Math.PI / 2); ctx.fillStyle = color; ctx.textBaseline = 'middle'; ctx.textAlign = 'left';
  let nat = 0; pieces.forEach(([t, s]) => { ctx.font = s ? supFont : font; nat += ctx.measureText(t).width; });
  const k = w ? w / nat : 1; ctx.scale(k, 1);
  let x = -nat / 2;
  pieces.forEach(([t, s]) => { ctx.font = s ? supFont : font; ctx.fillText(t, x, s ? -rise : 0); x += ctx.measureText(t).width; });
  ctx.restore();
}
function powLabel(ctx, e, xr, yc, fMain, fSup, rise) {
  const sup = (e < 0 ? '\u2212' : '') + Math.abs(e);
  ctx.save(); ctx.fillStyle = '#000'; ctx.textBaseline = 'middle'; ctx.textAlign = 'left';
  ctx.font = fSup; const ws = ctx.measureText(sup).width; ctx.font = fMain; const wm = ctx.measureText('10').width;
  ctx.fillText('10', xr - ws - wm, yc); ctx.font = fSup; ctx.fillText(sup, xr - ws, yc - rise);
  ctx.restore();
}
function seg(ctx, x1, y1, x2, y2) { ctx.beginPath(); ctx.moveTo(x1, y1); ctx.lineTo(x2, y2); ctx.stroke(); }

function rowPlugin(cfg) {
  return {
    id: 'row_' + cfg.name,
    beforeDatasetsDraw(chart) {
      const {ctx, scales: {x: xs, y: ys}} = chart;
      ctx.save(); ctx.strokeStyle = AX; ctx.lineWidth = 1.6;
      cfg.panels.forEach(p => {
        const l = xs.getPixelForValue(p[0]), r = xs.getPixelForValue(p[1]);
        for (let e = cfg.eMin + 1; e < cfg.eMax; e++) { const y = ys.getPixelForValue(Math.pow(10, e)); seg(ctx, l, y, r, y); }
      });
      ctx.restore();
    },
    afterDatasetsDraw(chart) {
      const {ctx, chartArea: a, scales: {x: xs, y: ys}} = chart;
      const X = h => xs.getPixelForValue(h), Y = v => ys.getPixelForValue(v);
      ctx.save(); ctx.strokeStyle = AX;
      cfg.panels.forEach(p => {
        const l = X(p[0]), r = X(p[1]);
        ctx.lineWidth = 2; ctx.strokeRect(l, a.top, r - l, a.bottom - a.top);
        ctx.lineWidth = 1.4;
        const days = []; for (let d = 0; d <= 216; d += 24) if (d > p[0] + 1 && d < p[1] - 1) days.push(d);
        for (let e = cfg.eMin; e <= cfg.eMax; e++) for (let m = 1; m <= 9; m++) {
          if (e === cfg.eMax && m > 1) break;
          const y = Y(m * Math.pow(10, e));
          seg(ctx, l, y, l + 9, y); seg(ctx, r - 9, y, r, y);
          days.forEach(d => seg(ctx, X(d) - 3, y, X(d) + 3, y));
        }
        for (let h = 3; h < 216; h += 3) {
          if (h <= p[0] + 0.5 || h >= p[1] - 0.5) continue;
          const len = h % 24 === 0 ? 11 : 7, x = X(h);
          seg(ctx, x, a.top, x, a.top + len); seg(ctx, x, a.bottom - len, x, a.bottom);
        }
      });
      ctx.restore();
      for (let e = cfg.eMin; e <= cfg.eMax; e++) {
        const yc = Math.min(Math.max(Y(Math.pow(10, e)), a.top + cfg.clampT), a.bottom - cfg.clampB);
        powLabel(ctx, e, cfg.labR, yc, cfg.labMain, cfg.labSup, cfg.labRise);
      }
      dayLabels.forEach((s, i) => txt(ctx, s, X(i * 24), cfg.dayBase, sans(18), '#000', 0, 'center'));
      [36, 108, 180].forEach(h => txt(ctx, 'Universal Time', X(h), cfg.utBase, serif(18), '#000', 128, 'center'));
      cfg.texts.forEach(t => txt(ctx, t[0], t[1], t[2], t[3] === 'serif' ? serif(t[4]) : sans(t[4]), '#000', t[5], 'left'));
      cfg.extra(ctx, X, Y, a);
    }
  };
}

const topCfg = {
  name: 'xray', eMin: -9, eMax: -2,
  panels: [[0, 69.9], [71.8, 143.8], [144.5, 216]],
  labR: 80, labMain: sans(18), labSup: sans(13), labRise: 8, clampT: 5, clampB: 7,
  dayBase: 512, utBase: 530,
  texts: [
    ['GOES Xray Flux (5 minute data)', 39, 25, 'serif', 19, 390],
    ['Begin:', 470, 31, 'serif', 17, 57], ['2001 Sep 2', 545, 31, 'sans', 18, 95],
    ['ES Xray Flux (5 minute data)', 641, 25, 'serif', 19, 359],
    ['Begin:', 1040, 31, 'serif', 17, 56], ['2001 Sep 27', 1114, 31, 'sans', 18, 113],
    ['S Xray Flux (5 minute data)', 1230, 25, 'serif', 19, 342],
    ['Begin:', 1613, 31, 'serif', 17, 57], ['2001 Sep 30 0000 UTC', 1688, 31, 'sans', 18, 205],
    ['Updated', 0, 555, 'serif', 18, 76], ['2001 Sep 26 23:56:03 UTC', 85, 555, 'sans', 18, 239],
    ['NOAA/SEC Boul', 496, 555, 'serif', 18, 150], ['2001 Sep 29 23:56:03 UTC', 655, 555, 'sans', 18, 240],
    ['NOAA/SEC Boulde', 1067, 555, 'serif', 18, 160], ['2001 Oct  2 23:56:06 UTC', 1231, 555, 'sans', 18, 231],
    ['NOAA/SEC Boulder, CO USA', 1639, 555, 'serif', 18, 232]
  ],
  extra(ctx, X, Y, a) {
    for (let e = -2; e >= -9; e--) txt(ctx, String(-e), 643, Math.max(Y(Math.pow(10, e)) - 2, a.top + 1), sans(16), '#000', 0, 'left');
    goesClasses.forEach((c, i) => {
      ctx.save(); ctx.font = serif(14); ctx.fillStyle = '#000'; ctx.textAlign = 'center'; ctx.textBaseline = 'middle';
      ctx.fillText(c, 1812, Y(Math.pow(10, -7.5 + i))); ctx.restore();
    });
    vtxt(ctx, [['Watts m', 0], ['\u22122', 1]], 18, 250, serif(25), serif(14), 9, '#000', 111);
    vtxt(ctx, [['GOES10 1.0\u22128.0 A', 0]], 1837, 190, sans(19), sans(19), 0, COL.g10L, 176);
    vtxt(ctx, [['GOES 8 1.0\u22128.0 A', 0]], 1866, 191, sans(19), sans(19), 0, COL.g8L, 174);
    vtxt(ctx, [['GOES10 0.5\u22124.0 A', 0]], 1837, 400, sans(19), sans(19), 0, COL.g10S, 176);
    vtxt(ctx, [['GOES 8 0.5\u22124.0 A', 0]], 1866, 400, sans(19), sans(19), 0, COL.g8S, 174);
  }
};

const botCfg = {
  name: 'proton', eMin: -2, eMax: 4,
  panels: [[0, 71.85], [72.2, 143.7], [144.3, 216]],
  labR: 75, labMain: sans(16), labSup: sans(10), labRise: 6, clampT: 6, clampB: 6,
  dayBase: 1056, utBase: 1075,
  texts: [
    ['GOES8 Proton Flux (5 minute data)', 38, 587, 'serif', 19, 358],
    ['Begin:', 462, 592, 'serif', 17, 56], ['2001 Sep 24 0', 527, 592, 'sans', 18, 138],
    ['S8 Proton Flux (5 minute data)', 654, 587, 'serif', 19, 317],
    ['Begin:', 1037, 592, 'serif', 17, 56], ['2001 Sep 27 0', 1102, 592, 'sans', 18, 123],
    ['S8 Proton Flux (5 minute data)', 1223, 587, 'serif', 19, 320],
    ['Begin:', 1609, 592, 'serif', 17, 56], ['2001 Sep 30 0000 UTC', 1672, 592, 'sans', 18, 198],
    ['Updated', 0, 1098, 'serif', 18, 74], ['2001 Sep 26 23:56:03 UTC', 83, 1098, 'sans', 18, 229],
    ['NOAA/SEC Boulder,', 480, 1098, 'serif', 18, 167], ['2001 Sep 29 23:56:05 UTC', 658, 1098, 'sans', 18, 230],
    ['NOAA/SEC Boulder', 1055, 1098, 'serif', 18, 168], ['2001 Oct  2 23:56:03 UTC', 1229, 1098, 'sans', 18, 226],
    ['NOAA/SEC Boulder, CO USA', 1625, 1098, 'serif', 18, 245]
  ],
  extra(ctx, X, Y, a) {
    vtxt(ctx, [['Particles cm', 0], ['\u22122', 1], ['s', 0], ['\u22121', 1], ['sr', 0], ['\u22121', 1]], 17, 830, serif(25), serif(14), 9, '#000', 220);
    vtxt(ctx, [['MeV', 0]], 1841, 703, sans(20), sans(20), 0, '#000', 37);
    vtxt(ctx, [['>=10', 0]], 1844, 776, sans(20), sans(20), 0, COL.p10, 55);
    vtxt(ctx, [['>=50', 0]], 1844, 885, sans(20), sans(20), 0, COL.p50, 54);
    vtxt(ctx, [['>=100', 0]], 1844, 987, sans(20), sans(20), 0, COL.p100, 65);
  }
};

function ds(label, arr, color, width, order) {
  return {label, data: arr.map(([x, y]) => ({x, y})), borderColor: color, backgroundColor: color, borderWidth: width,
    pointRadius: 0, fill: false, tension: 0, order, borderJoinStyle: 'round', spanGaps: false};
}
function mkChart(id, datasets, pad, yMin, yMax, cfg) {
  return new Chart(document.getElementById(id), {
    type: 'line',
    data: {datasets},
    options: {
      responsive: false, animation: false, devicePixelRatio: 1, normalized: true,
      layout: {padding: pad},
      plugins: {legend: {display: false}, tooltip: {enabled: false}},
      scales: {
        x: {type: 'linear', min: 0, max: 216, display: false},
        y: {type: 'logarithmic', min: yMin, max: yMax, display: false}
      }
    },
    plugins: [rowPlugin(cfg)]
  });
}

const xrayDs = [];
[[g10Long1, g8Long1, g10Short1, g8Short1], [g10Long2, g8Long2, g10Short2, g8Short2], [g10Long3, g8Long3, g10Short3, g8Short3]].forEach(([a, b, c, d]) => {
  xrayDs.push(ds('GOES10 1.0-8.0 A', a, COL.g10L, 2, 2));
  xrayDs.push(ds('GOES 8 1.0-8.0 A', b, COL.g8L, 2, 1));
  xrayDs.push(ds('GOES10 0.5-4.0 A', c, COL.g10S, 2, 4));
  xrayDs.push(ds('GOES 8 0.5-4.0 A', d, COL.g8S, 2, 3));
});
const protDs = [];
[[p10a, p50a, p100a], [p10b, p50b, p100b], [p10c, p50c, p100c]].forEach(([a, b, c]) => {
  protDs.push(ds('>=10 MeV', a, COL.p10, 1.6, 3));
  protDs.push(ds('>=50 MeV', b, COL.p50, 1.6, 2));
  protDs.push(ds('>=100 MeV', c, COL.p100, 1.6, 1));
});

const chTop = mkChart('cx', xrayDs, {left: 85, right: 100, top: 41, bottom: 615}, 1e-9, 1e-2, topCfg);
const chBot = mkChart('cp', protDs, {left: 82, right: 102, top: 601, bottom: 69}, 1e-2, 1e4, botCfg);

// ===== Overlay annotations =====
(function () {
  const ov = document.getElementById('ov').getContext('2d');
  const XT = h => chTop.scales.x.getPixelForValue(h);
  const yA = chTop.chartArea.top - 3, yB = chBot.chartArea.bottom + 4;
  const g0 = XT(launchBox[0]), g1 = XT(launchBox[1]);
  ov.fillStyle = 'rgba(30,225,30,0.36)'; ov.fillRect(g0, yA, g1 - g0, yB - yA);
  ov.strokeStyle = '#3fe03f'; ov.lineWidth = 2; ov.strokeRect(g0 + 1, yA + 1, g1 - g0 - 2, yB - yA - 2);
  flareBoxes.forEach(([h0, h1]) => {
    const x0 = XT(h0), x1 = XT(h1);
    ov.fillStyle = 'rgba(192,0,0,0.2)'; ov.fillRect(x0, yA, x1 - x0, yB - yA);
    ov.strokeStyle = '#c00000'; ov.lineWidth = 5; ov.lineJoin = 'round';
    ov.strokeRect(x0 + 2.5, yA + 2.5, x1 - x0 - 5, yB - yA - 5);
  });
  const yT = chBot.scales.y.getPixelForValue(protonThreshold);
  ov.strokeStyle = '#c00000'; ov.lineWidth = 7; ov.lineCap = 'butt';
  seg(ov, chBot.chartArea.left - 2, yT, chBot.chartArea.right, yT);
  txt(ov, 'Launch Delayed', 239, 713, serif(42), '#c00000', 294, 'left');
  ov.save(); ov.strokeStyle = '#c00000'; ov.lineWidth = 9; ov.setLineDash([33, 22, 8, 24]);
  seg(ov, 546, 697, 981, 697); ov.setLineDash([]); seg(ov, 981, 697, 1024, 697);
  ov.lineCap = 'round'; ov.lineJoin = 'round';
  ov.beginPath(); ov.moveTo(1003, 682); ov.lineTo(1025, 697); ov.lineTo(1003, 712); ov.stroke();
  ov.restore();
  ov.save(); ov.strokeStyle = '#0a870a'; ov.lineWidth = 9; ov.setLineDash([31, 7]);
  seg(ov, 1089, 697, 1154, 697); ov.setLineDash([]); seg(ov, 1154, 697, 1182, 697);
  ov.lineCap = 'round'; ov.lineJoin = 'round';
  ov.beginPath(); ov.moveTo(1163, 682); ov.lineTo(1184, 697); ov.lineTo(1163, 712); ov.stroke();
  ov.restore();
  txt(ov, 'Launch', 1189, 713, serif(42), '#0a870a', 140, 'left');
  txt(ov, 'Flare', 1448, 9, serif(42), '#c00000', 95, 'left');
  ov.strokeStyle = '#000'; ov.lineWidth = 1; seg(ov, 1893, 57, 1901, 57);
})();
</script>
</body></html>
